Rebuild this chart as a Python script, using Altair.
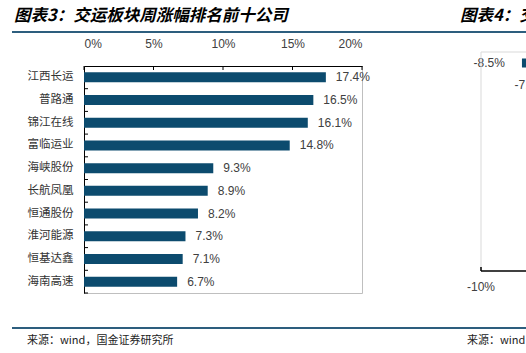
import altair as alt
import pandas as pd

# ---- data ----
names = ["江西长运", "普路通", "锦江在线", "富临运业", "海峡股份",
         "长航凤凰", "恒通股份", "淮河能源", "恒基达鑫", "海南高速"]
values = [17.4, 16.5, 16.1, 14.8, 9.3, 8.9, 8.2, 7.3, 7.1, 6.7]
x_ticks = [0, 5, 10, 15, 20]

# partially visible neighbouring chart (图表4)
rank2 = [1, 2]
values2 = [-8.5, -7.0]
x_ticks2 = [-10]

title1 = "图表3：交运板块周涨幅排名前十公司"
title2 = "图表4：交"
source = "来源：wind，国金证券研究所"
source2 = "来源：wind"

df = pd.DataFrame({"name": names, "value": values})
df_ticks = pd.DataFrame({"t": x_ticks})
df2 = pd.DataFrame({"rank": rank2, "value": values2})
df_ticks2 = pd.DataFrame({"t": x_ticks2})
one = pd.DataFrame({"a": [0]})

W, H = 278, 227
BAR = "#0C4B6E"
LINE = "#2D5E7E"
TXT = "#404040"
CJK = "Noto Sans CJK SC"
LAT = "Liberation Sans"

yscale = alt.Scale(domain=names, paddingInner=0, paddingOuter=0)
xscale = alt.Scale(domain=[0, 20], nice=False, zero=True)


def Y(axis=None, **kw):
    return alt.Y("name:N", sort=names, scale=yscale, axis=axis, **kw)


bars = alt.Chart(df).mark_bar(size=10, color=BAR).encode(
    x=alt.X("value:Q", scale=xscale,
            axis=alt.Axis(orient="top", values=x_ticks, labelExpr="datum.value + '%'",
                          ticks=False, grid=False, domainColor="black", domainWidth=1,
                          labelPadding=16, labelFont=LAT, labelFontSize=12,
                          labelColor=TXT, title=None)),
    y=Y(alt.Axis(ticks=False, domainColor="black", domainWidth=1, labelPadding=11,
                 labelFont=CJK, labelFontSize=11.5, labelColor="#333333", title=None)),
)

labels = alt.Chart(df).transform_calculate(
    lab="format(datum.value, '.1f') + '%'"
).mark_text(align="left", baseline="middle", dx=10, font=LAT, fontSize=12, color=TXT).encode(
    x=alt.X("value:Q", scale=xscale, axis=None),
    y=Y(),
    text="lab:N",
)

xtick_rules = alt.Chart(df_ticks).mark_rule(color="black").encode(
    x=alt.X("t:Q", scale=xscale, axis=None),
    y=alt.value(0), y2=alt.value(4),
)

ytick_rules = alt.Chart(df).mark_rule(color="black").encode(
    y=Y(bandPosition=1),
    x=alt.value(0), x2=alt.value(4),
)

# ---- neighbouring chart fragment ----
x2scale = alt.Scale(domain=[-10, 0], range=[397, 670], nice=False)
y2scale = alt.Scale(domain=list(range(1, 11)), range=[-14, 205], paddingInner=0, paddingOuter=0)

bars2 = alt.Chart(df2).mark_bar(size=9, color=BAR).encode(
    x=alt.X("value:Q", scale=x2scale, axis=None),
    y=alt.Y("rank:O", scale=y2scale, axis=None),
)
labels2 = alt.Chart(df2).transform_calculate(
    lab="replace(format(datum.value, '.1f'), '\u2212', '-') + '%'"
).mark_text(align="right", baseline="middle", dx=-17, font=LAT, fontSize=12, color=TXT).encode(
    x=alt.X("value:Q", scale=x2scale, axis=None),
    y=alt.Y("rank:O", scale=y2scale, axis=None),
    text="lab:N",
)
ticklab2 = alt.Chart(df_ticks2).transform_calculate(
    lab="datum.t + '%'"
).mark_text(align="center", baseline="middle", font=LAT, fontSize=12, color=TXT).encode(
    x=alt.X("t:Q", scale=x2scale, axis=None),
    y=alt.value(221),
    text="lab:N",
)


def rule(x1, x2, y1, y2, color, w=1):
    return alt.Chart(one).mark_rule(color=color, strokeWidth=w).encode(
        x=alt.value(x1), x2=alt.value(x2), y=alt.value(y1), y2=alt.value(y2))


def txt(s, x, y, size, style="normal", weight="normal", font=CJK, color="black"):
    return alt.Chart(one).mark_text(text=s, align="left", baseline="middle", font=font,
                                    fontSize=size, fontStyle=style, fontWeight=weight,
                                    color=color).encode(x=alt.value(x), y=alt.value(y))


decor = [
    txt(title1, -70, -50, 16.5, style="italic", weight="bold"),
    txt(title2, 376, -50, 16.5, style="italic", weight="bold"),
    rule(-72, 442, -34, -34, LINE, 2),
    rule(-72, 442, 262, 262, LINE, 2),
    txt(source, -57, 275, 11, color="#222222"),
    txt(source2, 383, 275, 11, color="#222222"),
    # neighbouring chart frame
    rule(397, 397, -14, 205, "#D9D9D9"),
    rule(397, 442, -14, -14, "#D9D9D9"),
    rule(397, 442, 205, 205, "black", 1.5),
    rule(397, 397, 201, 205, "black", 1.5),
]

chart = alt.layer(
    bars, labels, xtick_rules, ytick_rules, bars2, labels2, ticklab2, *decor
).resolve_scale(x="independent", y="independent").properties(
    width=W, height=H,
    autosize=alt.AutoSizeParams(type="none"),
    padding={"left": 84, "top": 66, "right": 164, "bottom": 60},
    background="white",
).configure_view(stroke="#BFBFBF", strokeWidth=1)

chart.save("out.html", embed_options={"renderer": "svg", "actions": False})
